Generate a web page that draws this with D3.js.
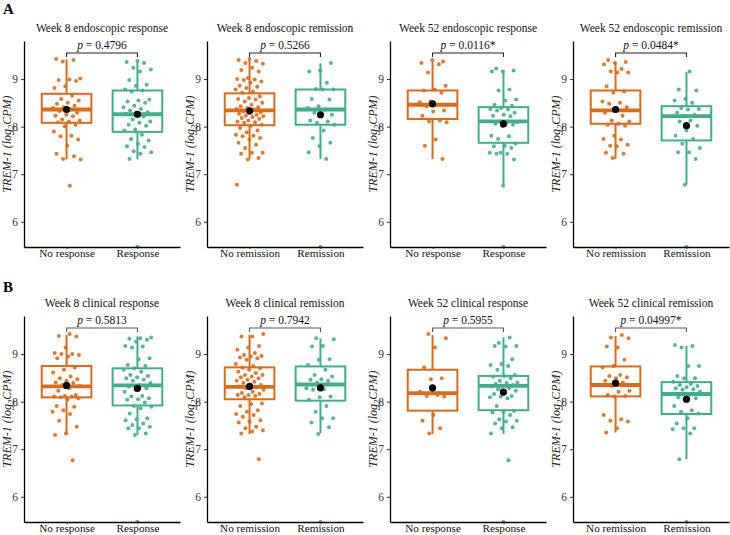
<!DOCTYPE html>
<html><head><meta charset="utf-8">
<script src="https://cdn.jsdelivr.net/npm/d3@7"></script>
<style>body{margin:0;background:#fff}svg{display:block}</style>
</head><body><svg id="c" width="730" height="535"></svg>
<script>
const panelTitles = ["Week 8 endoscopic response","Week 8 endoscopic remission","Week 52 endoscopic response","Week 52 endoscopic remission",
  "Week 8 clinical response","Week 8 clinical remission","Week 52 clinical response","Week 52 clinical remission"];
const pValues = ["0.4796","0.5266","0.0116*","0.0484*","0.5813","0.7942","0.5955","0.04997*"];
const groupLabels = [["No response","Response"],["No remission","Remission"],["No response","Response"],["No remission","Remission"],
  ["No response","Response"],["No remission","Remission"],["No response","Response"],["No remission","Remission"]];
const rowLetters = ["A","B"];
const yTicks = [6,7,8,9];
const yDomain = [5.47, 9.8];

// A1: week 8 endoscopic response
const a1No = [9.42,9.40,9.37,9.01,8.99,8.98,8.96,8.85,8.81,8.65,8.58,8.55,8.50,8.48,8.44,8.41,8.39,8.36,8.33,8.29,8.25,8.23,8.22,8.15,8.13,8.11,8.09,8.04,8.01,7.90,7.81,7.80,7.73,7.60,7.43,7.38,7.32,7.31,6.76];
const a1Yes = [9.38,9.36,9.34,9.24,9.20,9.16,8.98,8.88,8.86,8.78,8.76,8.74,8.57,8.55,8.53,8.50,8.44,8.41,8.37,8.34,8.30,8.29,8.27,8.22,8.15,8.11,8.08,8.04,8.02,7.94,7.92,7.83,7.74,7.71,7.64,7.59,7.57,7.48,7.46,7.43,7.32];
// A2: week 8 endoscopic remission
const a2No = [9.42,9.40,9.38,9.34,9.32,9.24,9.19,9.16,9.02,9.00,8.99,8.98,8.95,8.92,8.86,8.84,8.81,8.78,8.74,8.71,8.64,8.60,8.58,8.57,8.53,8.50,8.46,8.43,8.41,8.39,8.37,8.36,8.32,8.30,8.29,8.27,8.25,8.23,8.22,8.20,8.18,8.16,8.13,8.11,8.09,8.08,8.04,8.02,7.97,7.92,7.88,7.83,7.81,7.80,7.76,7.73,7.66,7.62,7.55,7.45,7.45,7.43,7.34,7.31,6.78];
const a2Yes = [9.34,9.18,9.16,8.92,8.79,8.78,8.78,8.58,8.57,8.43,8.39,8.36,8.29,8.25,8.22,8.13,8.11,8.08,8.04,7.92,7.76,7.66,7.59,7.46,7.32];
// A3: week 52 endoscopic response
const a3No = [9.37,9.40,9.34,9.31,9.14,8.86,8.78,8.76,8.71,8.53,8.51,8.46,8.43,8.34,8.32,8.23,8.13,8.11,8.09,7.73,7.60,7.32];
const a3Yes = [9.22,9.18,9.16,9.16,8.78,8.76,8.57,8.55,8.46,8.44,8.39,8.37,8.36,8.34,8.29,8.25,8.23,8.22,8.11,8.09,8.08,8.06,8.04,8.01,7.81,7.80,7.74,7.64,7.60,7.59,7.55,7.45,7.45,7.43,7.43,7.31,6.76];
// A4: week 52 endoscopic remission
const a4No = [9.40,9.36,9.34,9.31,9.21,9.16,9.14,9.14,8.85,8.74,8.71,8.53,8.50,8.48,8.41,8.39,8.29,8.23,8.13,8.11,8.06,8.04,8.02,7.81,7.74,7.73,7.60,7.62,7.59,7.45,7.43,7.34];
const a4Yes = [9.16,8.78,8.76,8.58,8.55,8.50,8.39,8.37,8.36,8.29,8.25,8.23,8.22,8.13,8.11,8.02,7.92,7.81,7.74,7.64,7.55,7.46,7.46,7.32,6.78];
// B1: week 8 clinical response
const b1No = [9.42,9.38,9.37,9.14,9.02,9.00,9.00,8.98,8.95,8.91,8.72,8.67,8.61,8.53,8.49,8.47,8.44,8.40,8.39,8.35,8.33,8.28,8.23,8.14,8.12,8.11,8.11,8.09,8.07,8.04,7.91,7.89,7.82,7.79,7.74,7.60,7.47,7.33,7.30,6.77];
const b1Yes = [9.35,9.33,9.32,9.30,9.26,9.17,9.16,9.14,8.91,8.89,8.77,8.75,8.70,8.67,8.63,8.56,8.54,8.51,8.49,8.46,8.44,8.39,8.35,8.32,8.28,8.25,8.21,8.12,8.11,8.07,8.05,8.04,7.98,7.91,7.89,7.86,7.75,7.65,7.63,7.61,7.54,7.51,7.47,7.44,7.44,7.33,7.30];
// B2: week 8 clinical remission
const b2No = [9.42,9.37,9.37,9.17,9.14,9.09,9.02,8.98,8.96,8.95,8.93,8.91,8.88,8.79,8.75,8.72,8.70,8.67,8.63,8.60,8.56,8.56,8.53,8.51,8.49,8.46,8.44,8.42,8.39,8.35,8.33,8.32,8.30,8.28,8.25,8.21,8.18,8.16,8.14,8.14,8.12,8.09,7.96,7.95,7.91,7.82,7.79,7.74,7.72,7.68,7.61,7.58,7.56,7.47,7.44,7.40,7.37,7.33,6.79];
const b2Yes = [9.33,9.31,9.17,9.16,8.89,8.88,8.77,8.67,8.56,8.53,8.47,8.46,8.44,8.40,8.28,8.26,8.25,8.11,8.09,8.04,7.91,7.79,7.65,7.65,7.56,7.46,7.32];
// B3: week 52 clinical response
const b3No = [9.42,9.33,9.14,8.72,8.49,8.47,8.21,8.14,8.12,8.11,7.72,7.60,7.44,7.33];
const b3Yes = [9.35,9.23,9.17,9.16,9.17,8.89,8.79,8.77,8.75,8.67,8.56,8.54,8.53,8.49,8.44,8.40,8.39,8.37,8.35,8.33,8.32,8.28,8.26,8.23,8.21,8.16,8.12,8.11,8.09,8.07,7.91,7.81,7.79,7.77,7.72,7.63,7.60,7.58,7.54,7.46,7.44,7.33,6.77];
// B4: week 52 clinical remission
const b4No = [9.40,9.35,9.33,9.14,9.16,8.88,8.75,8.72,8.56,8.54,8.51,8.49,8.44,8.40,8.33,8.23,8.21,8.14,8.12,8.11,7.72,7.63,7.60,7.58,7.44,7.35];
const b4Yes = [9.19,9.17,9.14,8.75,8.75,8.54,8.49,8.49,8.42,8.37,8.35,8.33,8.30,8.28,8.26,8.25,8.21,8.14,8.09,8.07,8.04,7.91,7.82,7.79,7.75,7.65,7.54,7.44,7.44,7.42,7.33,6.79];

const panelValues = [[a1No,a1Yes],[a2No,a2Yes],[a3No,a3Yes],[a4No,a4Yes],[b1No,b1Yes],[b2No,b2Yes],[b3No,b3Yes],[b4No,b4Yes]];

// box statistics
const boxQ1  = [[8.08,7.89],[8.03,8.04],[8.16,7.66],[8.06,7.71],[8.09,7.92],[8.05,8.02],[7.81,7.82],[8.11,7.74]];
const boxMed = [[8.36,8.26],[8.34,8.36],[8.46,8.11],[8.34,8.22],[8.32,8.34],[8.31,8.36],[8.18,8.33],[8.35,8.16]];
const boxQ3  = [[8.69,8.76],[8.70,8.78],[8.76,8.41],[8.76,8.43],[8.75,8.70],[8.72,8.74],[8.67,8.54],[8.74,8.41]];
const whiskLo = [[7.31,7.31],[7.32,7.32],[7.32,6.78],[7.32,6.78],[7.30,7.30],[7.32,7.33],[7.32,7.32],[7.35,6.79]];
const whiskHi = [[9.41,9.36],[9.39,9.33],[9.38,9.18],[9.36,9.15],[9.40,9.37],[9.40,9.33],[9.40,9.35],[9.38,9.17]];
const groupMeans = [[8.36,8.26],[8.33,8.25],[8.48,8.06],[8.36,8.02],[8.34,8.28],[8.32,8.29],[8.29,8.20],[8.39,8.05]];
const outlierVals = [[[],[5.47]],[[],[5.47]],[[],[5.47]],[[],[5.47]],[[],[5.47]],[[],[5.47]],[[],[5.47]],[[],[5.47]]];

const colors = ["#dd6a16","#3fae8c"];
const FONT = "'Liberation Serif', 'DejaVu Serif', serif";

const svg = d3.select("#c");
const panelW = 183, plotLeft0 = 24, plotW = 156;
const rowTop = [41, 316], plotH = 206;

svg.append("defs").selectAll("clipPath").data(d3.range(8)).join("clipPath")
  .attr("id", d => "clip" + d)
  .append("rect").attr("x", 0).attr("y", 0).attr("width", plotW).attr("height", plotH);

rowLetters.forEach((L, r) => {
  svg.append("text").attr("x", 3).attr("y", r === 0 ? 14 : 292)
    .attr("font-family", FONT).attr("font-weight", "bold").attr("font-size", 15).text(L);
});

function jitter(i, k) {
  const f = ((i * 0.6180339887 + k * 0.37 + 0.13) % 1);
  return (f - 0.5) * 0.4;
}

panelTitles.forEach((title, p) => {
  const row = Math.floor(p / 4), col = p % 4;
  const left = plotLeft0 + col * panelW, top = rowTop[row];
  const g = svg.append("g").attr("transform", `translate(${left},${top})`);
  const x = d3.scaleLinear().domain([0.4, 2.6]).range([0, plotW]);
  const y = d3.scaleLinear().domain(yDomain).range([plotH, 0]);

  // title
  g.append("text").attr("x", plotW / 2).attr("y", -9).attr("text-anchor", "middle")
    .attr("font-family", FONT).attr("font-size", 11.5).attr("fill", "#111").text(title);

  const pg = g.append("g").attr("clip-path", `url(#clip${p})`);

  [0, 1].forEach(k => {
    const cx = x(k + 1), c = colors[k];
    const bw = x(1.35) - x(1);
    // whiskers
    pg.append("line").attr("x1", cx).attr("x2", cx).attr("y1", y(boxQ3[p][k])).attr("y2", y(whiskHi[p][k]))
      .attr("stroke", c).attr("stroke-width", 2);
    pg.append("line").attr("x1", cx).attr("x2", cx).attr("y1", y(boxQ1[p][k])).attr("y2", y(whiskLo[p][k]))
      .attr("stroke", c).attr("stroke-width", 2);
    // box
    pg.append("rect").attr("x", cx - bw).attr("width", 2 * bw)
      .attr("y", y(boxQ3[p][k])).attr("height", y(boxQ1[p][k]) - y(boxQ3[p][k]))
      .attr("fill", "none").attr("stroke", c).attr("stroke-width", 2);
    pg.append("line").attr("x1", cx - bw).attr("x2", cx + bw).attr("y1", y(boxMed[p][k])).attr("y2", y(boxMed[p][k]))
      .attr("stroke", c).attr("stroke-width", 3.8);
    // outliers
    pg.selectAll(null).data(outlierVals[p][k]).join("circle")
      .attr("cx", cx).attr("cy", d => y(d)).attr("r", 2.1).attr("fill", c);
    // jittered points
    pg.selectAll(null).data(panelValues[p][k]).join("circle")
      .attr("cx", (d, i) => x(k + 1 + jitter(i, k + p)))
      .attr("cy", d => y(d)).attr("r", 2.0).attr("fill", c).attr("fill-opacity", 0.9);
    // mean
    pg.append("circle").attr("cx", cx).attr("cy", y(groupMeans[p][k])).attr("r", 3.6).attr("fill", "#000");
  });

  // axes
  const ya = g.append("g").call(d3.axisLeft(y).tickValues(yTicks).tickSize(3).tickSizeOuter(0).tickFormat(d3.format("d")));
  const xa = g.append("g").attr("transform", `translate(0,${plotH})`)
    .call(d3.axisBottom(x).tickValues([1, 2]).tickSize(2).tickPadding(1).tickSizeOuter(0).tickFormat(d => groupLabels[p][d - 1]));
  [ya, xa].forEach(a => {
    a.select(".domain").attr("stroke", "#000").attr("stroke-width", 1.3);
    a.selectAll(".tick line").attr("stroke", "#333");
    a.selectAll("text").attr("font-family", FONT).attr("font-size", 11.5).attr("fill", "#333");
  });
  xa.selectAll("text").attr("font-size", 11.2).attr("fill", "#111").attr("dy", "0.62em");

  // y label
  const yl = g.append("text").attr("transform", `translate(-13.5,${plotH / 2}) rotate(-90)`)
    .attr("text-anchor", "middle").attr("font-family", FONT).attr("font-size", 12).attr("font-style", "italic").attr("fill", "#222");
  yl.append("tspan").text("TREM-1 (log");
  yl.append("tspan").attr("font-size", 8.5).attr("dy", 3).text("2");
  yl.append("tspan").attr("dy", -3).text("CPM)");

  // bracket
  const bx1 = x(1), bx2 = x(2), by = 12;
  g.append("path").attr("d", `M${bx1},${by + 4}V${by}H${bx2}V${by + 4}`)
    .attr("fill", "none").attr("stroke", row === 0 ? "#222" : "#555").attr("stroke-width", 1.1);
  const pt = g.append("text").attr("x", (bx1 + bx2) / 2).attr("y", by - 4).attr("text-anchor", "middle")
    .attr("font-family", FONT).attr("font-size", 11.5).attr("fill", "#111");
  pt.append("tspan").attr("font-style", "italic").text("p");
  pt.append("tspan").text(" = " + pValues[p]);
});
</script></body></html>
